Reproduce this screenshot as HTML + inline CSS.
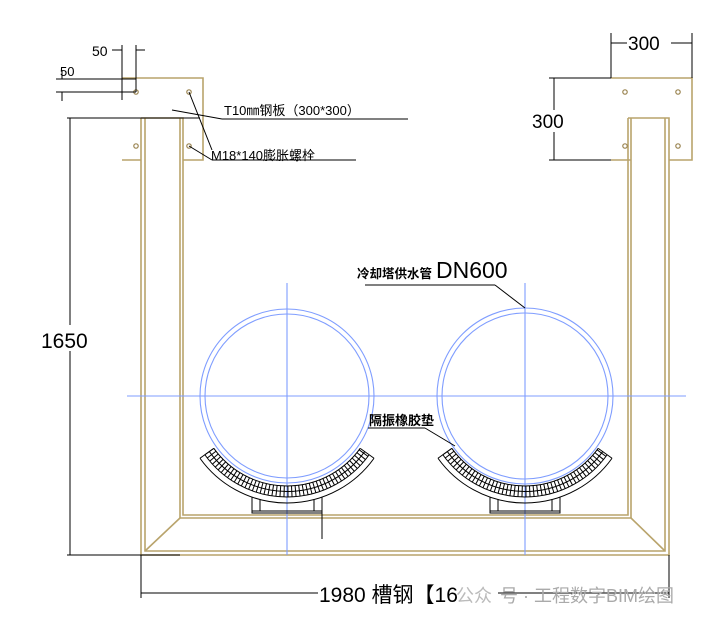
<!DOCTYPE html>
<html><head><meta charset="utf-8"><style>
html,body{margin:0;padding:0;background:#fff;}
svg{display:block}
text{font-family:"Liberation Sans","Noto Sans CJK SC",sans-serif;}
</style></head><body>
<svg id="s" width="719" height="625" viewBox="0 0 719 625" xmlns="http://www.w3.org/2000/svg">
<g fill="none" stroke="#b9a46c" stroke-width="1.6">
<path d="M122 78 H203 V160 H183 M141 160 H122 Z"/>
<path d="M611 78 H692 V160 H669 M631 160 H611 Z"/>
<path d="M141 118 V555 H669 V118 H628"/>
<path d="M145 118 V551 H665 V118"/>
<path d="M141 118 H183 V515 H628 V118"/>
<path d="M180 118 V518 H631 V118"/>
<line x1="145" y1="551" x2="180" y2="518"/>
<line x1="665" y1="551" x2="631" y2="518"/>
</g>
<g fill="none" stroke="#9a8450" stroke-width="1.2">
<circle cx="136" cy="92" r="2.2"/><circle cx="189" cy="92" r="2.2"/>
<circle cx="136" cy="146" r="2.2"/><circle cx="189" cy="146" r="2.2"/>
<circle cx="625" cy="92" r="2.2"/><circle cx="678" cy="92" r="2.2"/>
<circle cx="625" cy="146" r="2.2"/><circle cx="678" cy="146" r="2.2"/>
</g>
<g fill="none" stroke="#7f9dff" stroke-width="1.1">
<line x1="127" y1="396" x2="686" y2="396"/>
<line x1="287" y1="283" x2="287" y2="555"/>
<line x1="525" y1="283" x2="525" y2="555"/>
<circle cx="287" cy="396" r="87"/><circle cx="287" cy="396" r="82"/>
<circle cx="525" cy="396" r="88"/><circle cx="525" cy="396" r="83"/>
</g>
<g id="sad" fill="none" stroke="#000" stroke-width="1"></g>
<g stroke="#000" stroke-width="1" fill="none">
<line x1="122" y1="45" x2="122" y2="100"/><line x1="136" y1="45" x2="136" y2="92"/>
<line x1="112" y1="50" x2="122" y2="50"/><line x1="136" y1="50" x2="145" y2="50"/>
<line x1="56" y1="79" x2="136" y2="79"/><line x1="56" y1="92" x2="136" y2="92"/>
<line x1="62" y1="70" x2="62" y2="79"/><line x1="62" y1="92" x2="62" y2="101"/>
<line x1="189" y1="92" x2="212" y2="150"/><line x1="189" y1="146" x2="212" y2="160"/>
<line x1="172" y1="110" x2="222" y2="119"/><line x1="222" y1="119" x2="408" y2="119"/>
<line x1="212" y1="160" x2="356" y2="160"/>
<line x1="67" y1="118" x2="200" y2="118"/><line x1="70" y1="118" x2="70" y2="555"/>
<line x1="67" y1="555" x2="180" y2="555"/>
<line x1="611" y1="33" x2="611" y2="78"/><line x1="692" y1="33" x2="692" y2="78"/>
<line x1="611" y1="43" x2="692" y2="43"/>
<line x1="554" y1="78" x2="554" y2="160"/><line x1="549" y1="78" x2="611" y2="78"/>
<line x1="549" y1="160" x2="611" y2="160"/>
<line x1="141" y1="555" x2="141" y2="598"/><line x1="669" y1="555" x2="669" y2="598"/>
<line x1="141" y1="593" x2="669" y2="593"/>
<line x1="322" y1="497" x2="322" y2="539"/>
<line x1="365" y1="285" x2="495" y2="285"/><line x1="495" y1="285" x2="525" y2="308"/>
<line x1="368" y1="428" x2="425" y2="428"/><line x1="425" y1="428" x2="455" y2="446"/>
</g>
<g font-size="14" fill="#000">
<text x="92" y="56">50</text>
<text x="60" y="76" font-size="13">50</text>
<text x="224" y="115" font-size="13">T10㎜钢板（300*300）</text>
<text x="211" y="160" font-size="13">M18*140膨胀螺栓</text>
<rect x="627" y="33" width="44" height="20" fill="#fff"/>
<text x="628" y="50" font-size="19">300</text>
<rect x="530" y="110" width="48" height="22" fill="#fff"/>
<text x="532" y="128" font-size="19">300</text>
<rect x="40" y="325" width="58" height="26" fill="#fff"/>
<text x="41" y="348" font-size="21">1650</text>
<text x="357" y="278" font-size="12.5" font-weight="bold">冷却塔供水管</text>
<text x="436" y="278" font-size="23">DN600</text>
<text x="369" y="425" font-size="13" font-weight="bold">隔振橡胶垫</text>
<rect x="318" y="580" width="180" height="26" fill="#fff"/>
<text x="319" y="602" font-size="21">1980  槽钢【16</text>
<text x="500" y="602" font-size="18" fill="#aaa">号 · 工程数字BIM绘图</text>
<text x="456" y="602" font-size="18" fill="#bbb">公众</text>
</g>
</svg>
<script>
var g=document.getElementById('sad'),NS='http://www.w3.org/2000/svg';
function el(t,a){var e=document.createElementNS(NS,t);for(var k in a)e.setAttribute(k,a[k]);g.appendChild(e);}
function arc(cx,cy,r,a0,a1){var p=function(a){return [cx+r*Math.sin(a),cy+r*Math.cos(a)]};var s=p(a0),e=p(a1);return 'M'+s[0]+' '+s[1]+' A'+r+' '+r+' 0 0 0 '+e[0]+' '+e[1];}
[[287,396],[525,396]].forEach(function(c){
 var cx=c[0],cy=c[1],A=0.95;
 [90,95.5,101,107].forEach(function(r){el('path',{d:arc(cx,cy,r,-A,A)});});
 for(var a=-A;a<=A+0.001;a+=0.04){
  var s=Math.sin(a),co=Math.cos(a);
  el('line',{x1:cx+90*s,y1:cy+90*co,x2:cx+101*s,y2:cy+101*co});
 }
 [-A,A].forEach(function(a){var s=Math.sin(a),co=Math.cos(a);el('line',{x1:cx+90*s,y1:cy+90*co,x2:cx+107*s,y2:cy+107*co});});
 el('path',{d:'M'+(cx-35)+' '+(cy+101)+' V'+(cy+117)+' H'+(cx+35)+' V'+(cy+101)});
 el('line',{x1:cx-35,y1:cy+115,x2:cx+35,y2:cy+115});
 el('path',{d:'M'+(cx-27)+' '+(cy+103)+' V'+(cy+115)+' M'+(cx+27)+' '+(cy+103)+' V'+(cy+115)});
});
</script>
</body></html>
